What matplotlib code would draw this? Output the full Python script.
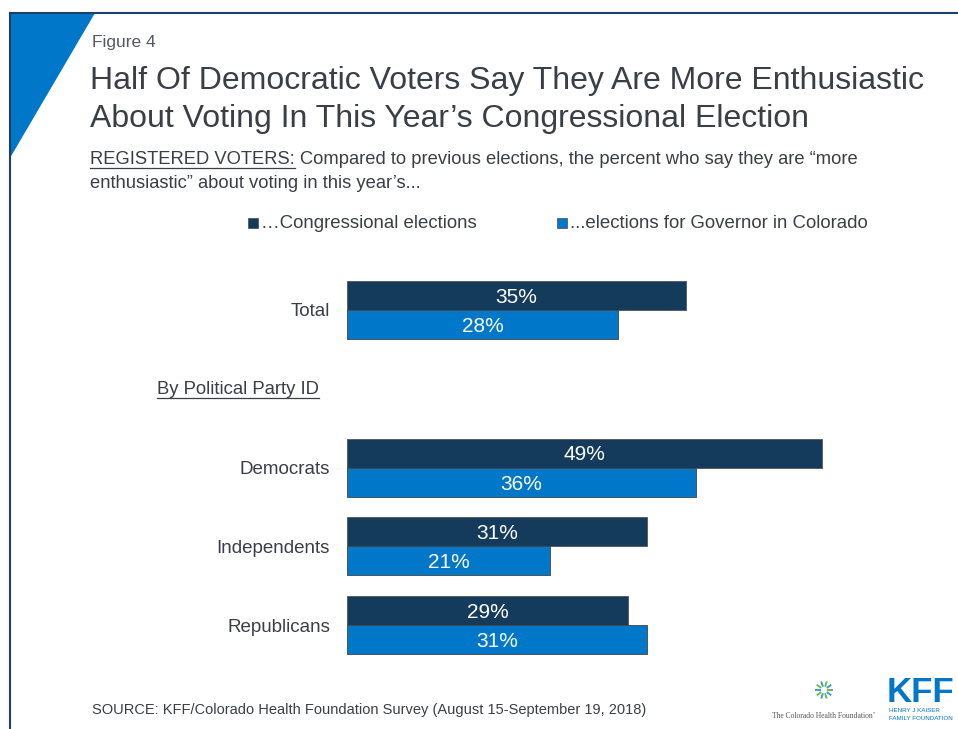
import matplotlib
matplotlib.use("Agg")
import matplotlib.pyplot as plt
from matplotlib.patches import Polygon, Rectangle
from matplotlib.lines import Line2D
import numpy as np

plt.rcParams['font.family'] = ['Liberation Sans', 'DejaVu Sans']

# ---- data ----
categories = ["Total", "", "Democrats", "Independents", "Republicans"]
congressional = [35, None, 49, 31, 29]
governor = [28, None, 36, 21, 31]
series_names = ["\u2026Congressional elections", "...elections for Governor in Colorado"]
header_label = "By Political Party ID"

DARK = "#143A5C"
LIGHT = "#0077C8"
TXT = "#3A3F47"

W, H = 958, 729
fig = plt.figure(figsize=(W / 100, H / 100), dpi=100)

def fx(px):
    return px / W

def fy(py):
    return 1 - py / H

# frame lines & triangle
fig.add_artist(Line2D([fx(10), fx(958)], [fy(13), fy(13)], color="#1F3F66", lw=1.5))
fig.add_artist(Line2D([fx(10), fx(10)], [fy(13), fy(729)], color="#1F3F66", lw=1.5))
fig.add_artist(Polygon([[fx(10), fy(13)], [fx(95), fy(13)], [fx(10), fy(158)]],
                       closed=True, facecolor=LIGHT, edgecolor="none", transform=fig.transFigure))

fig.text(fx(92), fy(42), "Figure 4", fontsize=12.5, color="#555a60", va="center", ha="left")
fig.text(fx(90), fy(81), "Half Of Democratic Voters Say They Are More Enthusiastic",
         fontsize=23, color=TXT, va="center", ha="left")
fig.text(fx(90), fy(119), "About Voting In This Year\u2019s Congressional Election",
         fontsize=23, color=TXT, va="center", ha="left")

SUBFS = 13.2
t_reg = fig.text(fx(90), fy(160), "REGISTERED VOTERS:", fontsize=SUBFS, color=TXT, va="center", ha="left")
fig.text(fx(90), fy(184), "enthusiastic\u201d about voting in this year\u2019s...",
         fontsize=SUBFS, color=TXT, va="center", ha="left")

# legend
for (sx, col, name) in [(253, DARK, series_names[0]), (562, LIGHT, series_names[1])]:
    fig.add_artist(Rectangle((fx(sx - 5), fy(228)), fx(10), 10 / H, facecolor=col,
                             edgecolor="#333333", lw=0.4, transform=fig.transFigure))
    fig.text(fx(sx + 8), fy(223), name, fontsize=13.4, color=TXT, va="center", ha="left")

# axes
ax_left, ax_right = 347, 347 + 9.686 * 55
slot = 78.75
top_slot, bot_slot = -0.6, 4.6
ax_top = 310 + slot * top_slot
ax_bot = 310 + slot * bot_slot
ax = fig.add_axes([fx(ax_left), fy(ax_bot), fx(ax_right - ax_left), (ax_bot - ax_top) / H])
ax.set_xlim(0, 55)
ax.set_ylim(bot_slot, top_slot)
ax.axis("off")

bh = 29 / slot
for i, (c, g) in enumerate(zip(congressional, governor)):
    if c is None:
        continue
    ax.barh(i - bh / 2, c, height=bh, color=DARK, edgecolor="#555555", linewidth=0.6)
    ax.barh(i + bh / 2, g, height=bh, color=LIGHT, edgecolor="#444444", linewidth=0.6)
    ax.text(c / 2, i - bh / 2, f"{c}%", color="white", fontsize=15, ha="center", va="center_baseline")
    ax.text(g / 2, i + bh / 2, f"{g}%", color="white", fontsize=15, ha="center", va="center_baseline")
    ax.text(-1.75, i, categories[i], color=TXT, fontsize=13.5, ha="right", va="center_baseline")

# header row
t_hdr = fig.text(fx(157), fy(388), header_label, fontsize=13.3, color=TXT, va="center_baseline", ha="left")

# source
fig.text(fx(92), fy(710), "SOURCE: KFF/Colorado Health Foundation Survey (August 15-September 19, 2018)",
         fontsize=10.5, color=TXT, va="center", ha="left")

# logos (approximated)
cx, cy = 824, 690
for k, ang in enumerate(np.linspace(0, 2 * np.pi, 10, endpoint=False)):
    r = 8
    fig.add_artist(Line2D([fx(cx + r * 0.55 * np.cos(ang)), fx(cx + r * np.cos(ang))],
                          [fy(cy + r * 0.55 * np.sin(ang)), fy(cy + r * np.sin(ang))],
                          color="#3AA0C8" if k % 2 else "#7AB648", lw=1.4))
fig.text(fx(824), fy(716), "The Colorado Health Foundation\u2019", fontsize=5.5, family="Liberation Serif",
         color="#555555", ha="center", va="center")
fig.text(fx(887), fy(692), "KFF", fontsize=25, fontweight="bold", color=LIGHT, ha="left", va="center")
fig.text(fx(889), fy(711), "HENRY J KAISER", fontsize=4.5, color=LIGHT, ha="left", va="center")
fig.text(fx(889), fy(718), "FAMILY FOUNDATION", fontsize=4.5, color=LIGHT, ha="left", va="center")

# follow-on text & underlines
fig.canvas.draw()
r = fig.canvas.get_renderer()
bb_reg = t_reg.get_window_extent(renderer=r)
fig.text((bb_reg.x1 + 5) / W, fy(160),
         "Compared to previous elections, the percent who say they are \u201cmore",
         fontsize=SUBFS, color=TXT, va="center", ha="left")
for t in (t_reg, t_hdr):
    bb = t.get_window_extent(renderer=r)
    y = bb.y0 + 1
    fig.add_artist(Line2D([bb.x0 / W, bb.x1 / W], [y / H, y / H], color=TXT, lw=0.9))

fig.savefig("out.png", dpi=100)
